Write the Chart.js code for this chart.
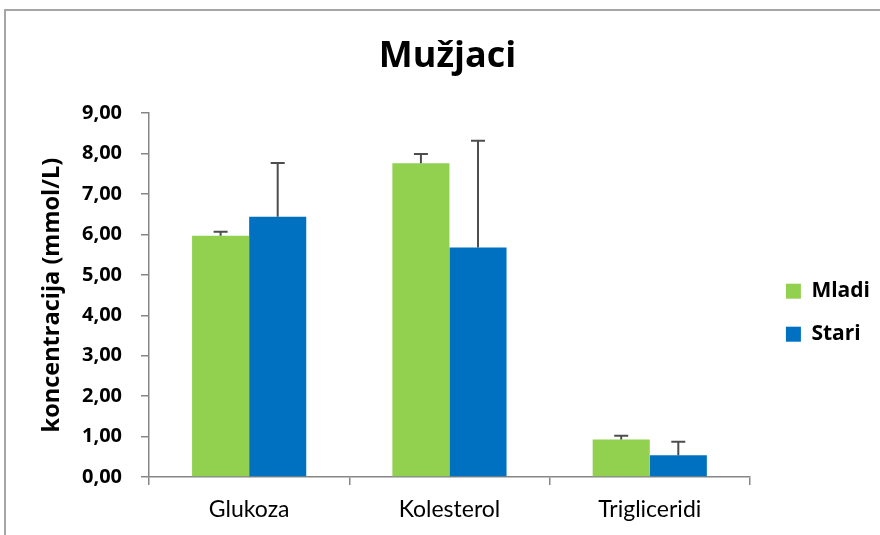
<!DOCTYPE html>
<html><head><meta charset="utf-8">
<script src="https://cdn.jsdelivr.net/npm/chart.js@4.4.1/dist/chart.umd.min.js"></script>
<style>
html,body{margin:0;padding:0;background:#fff;overflow:hidden;}
#wrap{position:relative;width:880px;height:535px;overflow:hidden;}
#frame{position:absolute;left:4px;top:9px;width:1000px;height:1000px;border-left:2px solid #a6a6a6;border-top:2px solid #a6a6a6;}
canvas{position:absolute;left:0;top:0;}
</style></head><body>
<div id="wrap"><div id="frame"></div><canvas id="c" width="880" height="535"></canvas></div>
<script>
const titleText = 'Mužjaci';
const yAxisTitle = 'koncentracija (mmol/L)';
const categories = ['Glukoza', 'Kolesterol', 'Trigliceridi'];
const seriesNames = ['Mladi', 'Stari'];
const mladi = [5.97, 7.76, 0.93];
const stari = [6.44, 5.68, 0.54];
const mladiErr = [0.10, 0.23, 0.09];
const stariErr = [1.33, 2.64, 0.33];
const yTickLabels = ['0,00', '1,00', '2,00', '3,00', '4,00', '5,00', '6,00', '7,00', '8,00', '9,00'];

const axisGray = '#868686';

const errorBars = {
  id: 'errorBars',
  afterDatasetsDraw(chart) {
    const ctx = chart.ctx;
    const ys = chart.scales.y;
    chart.data.datasets.forEach((ds, i) => {
      const meta = chart.getDatasetMeta(i);
      meta.data.forEach((bar, j) => {
        const yTop = ys.getPixelForValue(ds.data[j] + ds.errors[j]);
        ctx.save();
        ctx.strokeStyle = '#4d4d4d';
        ctx.lineWidth = 2;
        ctx.beginPath();
        ctx.moveTo(bar.x, bar.y);
        ctx.lineTo(bar.x, yTop);
        ctx.moveTo(bar.x - 7, yTop);
        ctx.lineTo(bar.x + 7, yTop);
        ctx.stroke();
        ctx.restore();
      });
    });
  }
};

new Chart(document.getElementById('c'), {
  type: 'bar',
  data: {
    labels: categories,
    datasets: [
      { label: seriesNames[0], data: mladi, errors: mladiErr, backgroundColor: '#92D050', borderWidth: 0 },
      { label: seriesNames[1], data: stari, errors: stariErr, backgroundColor: '#0070C0', borderWidth: 0 }
    ]
  },
  options: {
    responsive: false,
    animation: false,
    devicePixelRatio: 1,
    categoryPercentage: 0.57,
    barPercentage: 1.0,
    layout: { padding: { left: 15, right: 0, top: 0, bottom: 0 } },
    plugins: {
      tooltip: { enabled: false },
      title: {
        display: true, text: titleText, color: '#000',
        font: { family: 'Open Sans', weight: 'bold', size: 36, lineHeight: 1.2 },
        padding: { top: 35, bottom: 35 }
      },
      legend: {
        display: true, position: 'right', align: 'center',
        labels: { boxWidth: 15, boxHeight: 15, padding: 22, color: '#000',
          font: { family: 'Open Sans', weight: 'bold', size: 21 } },
        title: { display: true, text: '', font: { size: 12 }, padding: { top: 76, bottom: 0 } }
      }
    },
    scales: {
      x: {
        grid: { display: true, drawOnChartArea: false, drawTicks: true, tickLength: 8, color: axisGray, lineWidth: 1.5, offset: true },
        border: { display: true, color: axisGray, width: 1.5 },
        ticks: { color: '#000', font: { family: 'Lato', size: 23 }, padding: 11 },
        afterFit: s => { s.height = 58; }
      },
      y: {
        min: 0, max: 9,
        ticks: { stepSize: 1, callback: v => yTickLabels[Math.round(v)], color: '#000',
          font: { family: 'Open Sans', weight: 'bold', size: 20 }, padding: 19 },
        grid: { display: true, drawOnChartArea: false, tickLength: 8, color: axisGray, lineWidth: 1.5 },
        border: { display: true, color: axisGray, width: 1.5 },
        title: { display: true, text: yAxisTitle, color: '#000',
          font: { family: 'Open Sans', weight: 'bold', size: 23.5 }, padding: { top: 23, bottom: 0 } },
        afterFit: s => { s.width = 134; }
      },
      y2: {
        position: 'right', display: true,
        grid: { display: false }, border: { display: false }, ticks: { display: false },
        afterFit: s => { s.width = 14; }
      }
    }
  },
  plugins: [errorBars]
});
</script>
</body></html>
